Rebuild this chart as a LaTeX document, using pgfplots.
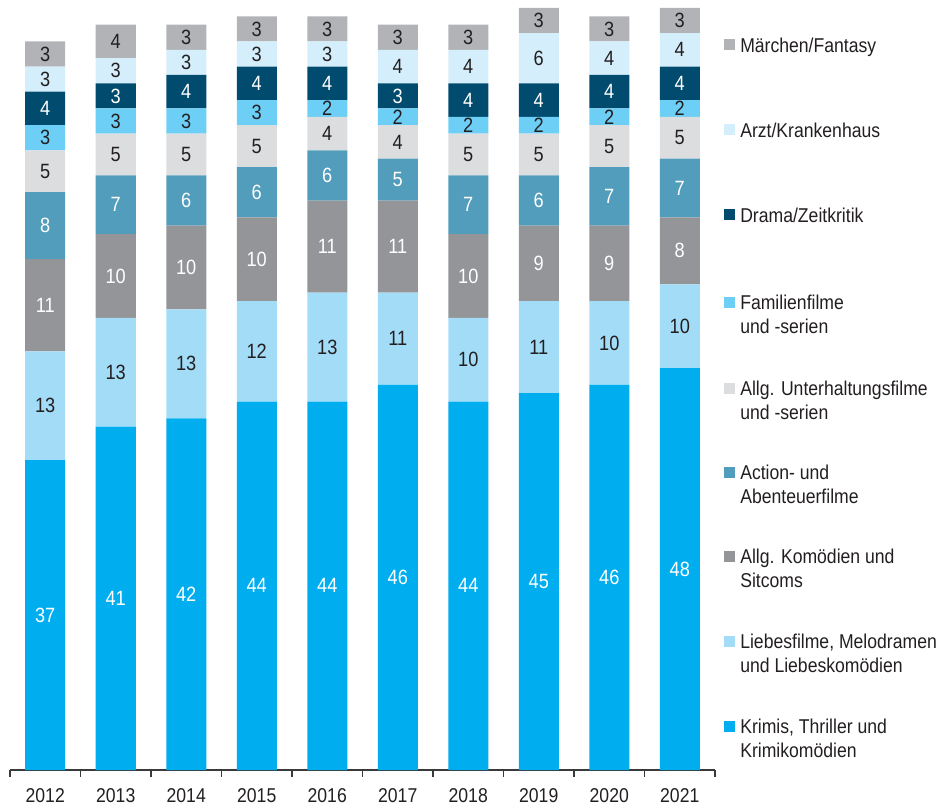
\documentclass[border=0pt]{standalone}
\usepackage{fontspec}
\setmainfont{Liberation Sans}[FakeStretch=0.88]
\usepackage{pgfplots}
\pgfplotsset{compat=1.18}
\usepackage{pgfplotstable}
\definecolor{txt}{HTML}{231F20}
\definecolor{cKrimi}{HTML}{00AEEF}
\definecolor{cLiebe}{HTML}{A3DCF7}
\definecolor{cKom}{HTML}{939598}
\definecolor{cAction}{HTML}{529DBB}
\definecolor{cUnt}{HTML}{DCDDDE}
\definecolor{cFam}{HTML}{6DCFF6}
\definecolor{cDrama}{HTML}{004B6E}
\definecolor{cArzt}{HTML}{D5EEFB}
\definecolor{cMaer}{HTML}{B1B3B6}
\definecolor{axisgray}{HTML}{3A3A3A}

\pgfplotstableread{
x krimi liebe kom action unt fam drama arzt maer
0 37 13 11 8 5 3 4 3 3
1 41 13 10 7 5 3 3 3 4
2 42 13 10 6 5 3 4 3 3
3 44 12 10 6 5 3 4 3 3
4 44 13 11 6 4 2 4 3 3
5 46 11 11 5 4 2 3 4 3
6 44 10 10 7 5 2 4 4 3
7 45 11 9 6 5 2 4 6 3
8 46 10 9 7 5 2 4 4 3
9 48 10 8 7 5 2 4 4 3
}\data

\begin{document}
\begin{tikzpicture}[font=\fontsize{15}{18}\selectfont, text=txt]
\path[use as bounding box] (-7.5pt,-28.5pt) rectangle (698.25pt,577.5pt);
\begin{axis}[
  width=528.75pt, height=571.5pt, scale only axis,
  ybar stacked, bar width=30pt,
  xmin=-0.5, xmax=9.5, ymin=0, ymax=91,
  axis y line=none, axis x line*=bottom,
  xtick={0,...,9},
  xticklabels={2012,2013,2014,2015,2016,2017,2018,2019,2020,2021},
  minor xtick={-0.5,0.5,...,9.5},
  major tick length=0pt, minor tick length=5pt,
  tick align=outside,
  every minor tick/.style={draw=axisgray, line width=0.8pt},
  axis line style={draw=axisgray, line width=0.8pt},
  xticklabel style={font=\fontsize{15}{18}\selectfont, text=txt, inner sep=0pt, anchor=north, yshift=-14pt},
  /pgf/number format/assume math mode=true,
  nodes near coords,
  point meta=rawy,
  every node near coord/.append style={anchor=center, font=\fontsize{15.5}{18}\selectfont, text=txt},
  clip=false,
]
\addplot[fill=cKrimi, draw=none, every node near coord/.append style={text=white}] table[x=x,y=krimi]{\data};
\addplot[fill=cLiebe, draw=none] table[x=x,y=liebe]{\data};
\addplot[fill=cKom, draw=none, every node near coord/.append style={text=white}] table[x=x,y=kom]{\data};
\addplot[fill=cAction, draw=none, every node near coord/.append style={text=white}] table[x=x,y=action]{\data};
\addplot[fill=cUnt, draw=none] table[x=x,y=unt]{\data};
\addplot[fill=cFam, draw=none] table[x=x,y=fam]{\data};
\addplot[fill=cDrama, draw=none, every node near coord/.append style={text=white}] table[x=x,y=drama]{\data};
\addplot[fill=cArzt, draw=none] table[x=x,y=arzt]{\data};
\addplot[fill=cMaer, draw=none] table[x=x,y=maer]{\data};
\end{axis}
% legend
\def\legitem#1#2#3{%
  \fill[#1] (535.5pt,{#2-4.125pt}) rectangle +(8.25pt,8.25pt);
  \node[anchor=north west, inner sep=0pt, align=left] at (547.5pt,{#2+5.6pt}) {#3};
}
\legitem{cMaer}{543.75pt}{Märchen/Fantasy}
\legitem{cArzt}{480pt}{Arzt/Krankenhaus}
\legitem{cDrama}{416.25pt}{Drama/Zeitkritik}
\legitem{cFam}{351pt}{Familienfilme\\und -serien}
\legitem{cUnt}{286.5pt}{Allg. Unterhaltungsfilme\\und -serien}
\legitem{cAction}{223.5pt}{Action- und\\Abenteuerfilme}
\legitem{cKom}{160.5pt}{Allg. Komödien und\\Sitcoms}
\legitem{cLiebe}{96.75pt}{Liebesfilme, Melodramen\\und Liebeskomödien}
\legitem{cKrimi}{33pt}{Krimis, Thriller und\\Krimikomödien}
\end{tikzpicture}
\end{document}
